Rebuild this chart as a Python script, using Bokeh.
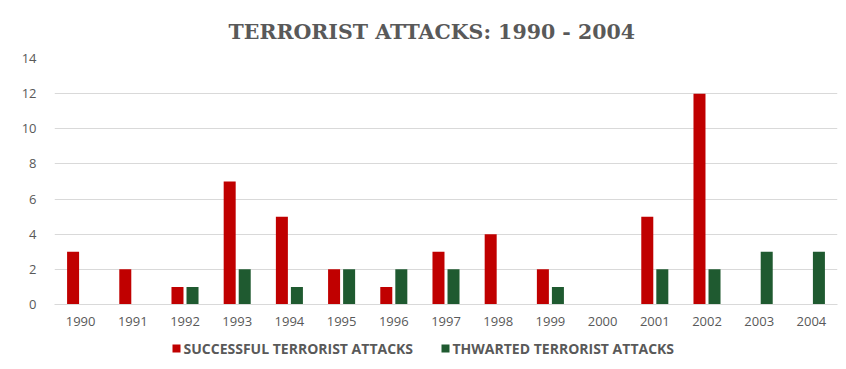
from bokeh.plotting import figure
from bokeh.layouts import column
from bokeh.models import ColumnDataSource, FactorRange, Range1d, FixedTicker
from bokeh.core.properties import value
from bokeh.transform import dodge
from bokeh.embed import file_html
from bokeh.resources import INLINE

years = ["1990", "1991", "1992", "1993", "1994", "1995", "1996", "1997",
         "1998", "1999", "2000", "2001", "2002", "2003", "2004"]
successful = [3, 2, 1, 7, 5, 2, 1, 3, 4, 2, 0, 5, 12, 0, 0]
thwarted = [0, 0, 1, 2, 1, 2, 2, 2, 0, 1, 0, 2, 2, 3, 3]
y_ticks = [0, 2, 4, 6, 8, 10, 12, 14]

title_text = "TERRORIST ATTACKS: 1990 - 2004"
legend_labels = ["SUCCESSFUL TERRORIST ATTACKS", "THWARTED TERRORIST ATTACKS"]

RED = "#c00000"
GREEN = "#1f5a30"
TXT = "#595959"
legend_colors = [RED, GREEN]

src = ColumnDataSource(dict(years=years, successful=successful, thwarted=thwarted))

p = figure(frame_width=783, frame_height=246, output_backend="svg", toolbar_location=None,
           x_range=FactorRange(factors=years, range_padding=0),
           y_range=Range1d(0, 14),
           min_border_left=54, min_border_right=1, min_border_top=58, min_border_bottom=28)
p.outline_line_color = None

p.title.text = title_text
p.title.align = "left"
p.title.offset = 174
p.title.standoff = 30
p.title.text_font = "DejaVu Serif"
p.title.text_font_style = "bold"
p.title.text_font_size = "20.5px"
p.title.text_color = TXT

p.vbar(x=dodge("years", -0.144, range=p.x_range), top="successful", width=0.23,
       source=src, fill_color=RED, line_color=None)
p.vbar(x=dodge("years", 0.144, range=p.x_range), top="thwarted", width=0.23,
       source=src, fill_color=GREEN, line_color=None)

p.xgrid.grid_line_color = None
p.ygrid.grid_line_color = "#d9d9d9"
p.yaxis.ticker = FixedTicker(ticks=y_ticks)
for ax in (p.xaxis[0], p.yaxis[0]):
    ax.axis_line_color = None
    ax.major_tick_line_color = None
    ax.minor_tick_line_color = None
    ax.major_label_text_font = "Open Sans"
    ax.major_label_text_font_size = "13px"
    ax.major_label_text_color = TXT
p.xaxis.axis_line_color = "#d9d9d9"
p.xaxis.major_label_standoff = 6
p.yaxis.major_label_standoff = 12

# legend strip below the chart (pixel coordinates, frame aligned with the chart's frame)
q = figure(width=838, height=33, output_backend="svg", toolbar_location=None,
           x_range=Range1d(0, 783), y_range=Range1d(0, 33),
           x_axis_location=None, y_axis_location=None,
           min_border=0, min_border_left=0, min_border_right=0,
           min_border_top=0, min_border_bottom=0)
q.grid.visible = False
q.outline_line_color = None
q.rect(x=[122, 391], y=[17, 17], width=8, height=8, fill_color=legend_colors, line_color=None)
q.text(x=[129, 398], y=[17, 17], text=legend_labels, text_baseline="middle",
       text_align="left", text_font=value("Open Sans"), text_font_style="bold",
       text_font_size="14px", text_color=TXT)

layout = column(p, q, spacing=0)
open("out.html", "w").write(file_html(layout, INLINE))
